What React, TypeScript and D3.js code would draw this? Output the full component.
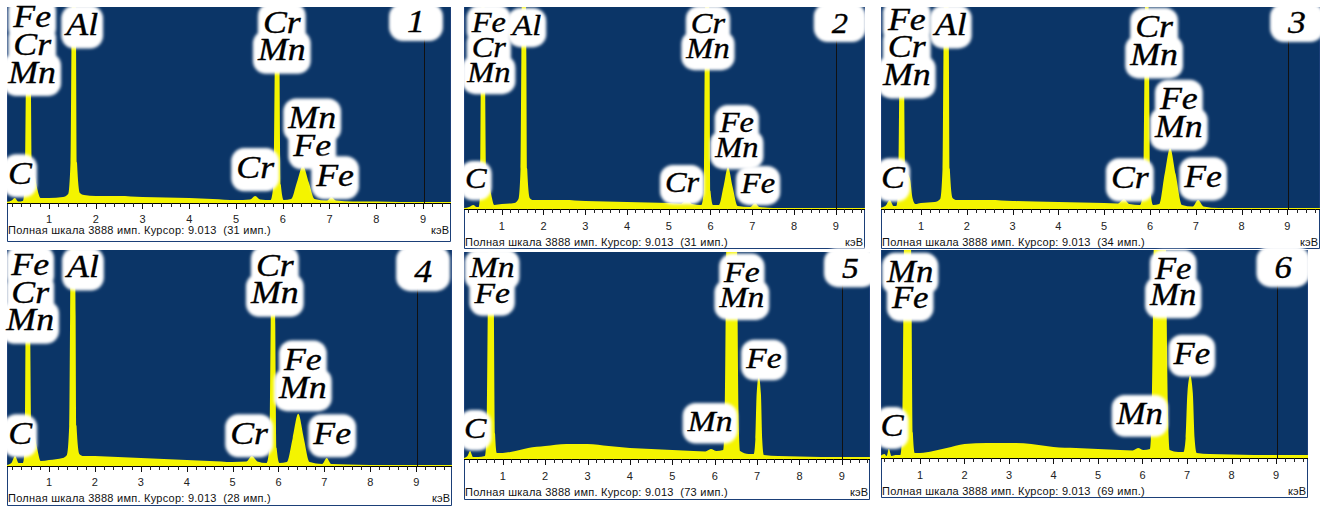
import React, { useEffect, useRef } from "react";
import * as d3 from "d3";

const W = 1324;
const H = 507;
const FULL_SCALE = 3888; // имп.
const CURSOR_KEV = 9.013;

const tickLabels = [1, 2, 3, 4, 5, 6, 7, 8, 9];
const panelNames = ["1", "2", "3", "4", "5", "6"];
const cursorCounts = [31, 31, 34, 28, 73, 69];

// spectra as [keV, counts]
const spectrum1: [number, number][] = [
  [0.08, 20], [0.2, 50], [0.27, 100], [0.34, 30], [0.44, 40], [0.48, 320], [0.51, 2800], [0.56, 8000],
  [0.61, 2800], [0.64, 600], [0.69, 540], [0.75, 280], [0.82, 100], [1.0, 100], [1.3, 120], [1.41, 180],
  [1.46, 800], [1.48, 3000], [1.53, 10000], [1.58, 3000], [1.6, 800], [1.66, 200], [1.75, 160], [2.0, 140],
  [2.5, 140], [3.0, 120], [3.5, 110], [4.0, 100], [4.5, 80], [5.0, 60], [5.3, 70], [5.41, 140], [5.52, 70],
  [5.74, 60], [5.8, 360], [5.83, 2800], [5.88, 8000], [5.93, 2800], [5.96, 360], [6.02, 60], [6.18, 80],
  [6.3, 400], [6.43, 740], [6.56, 400], [6.68, 80], [6.95, 50], [7.04, 120], [7.14, 50], [7.5, 30],
  [8.0, 30], [8.5, 20], [9.0, 20], [9.8, 20],
];
const spectrum2: [number, number][] = [
  [0.08, 19], [0.22, 39], [0.32, 77], [0.4, 39], [0.45, 39], [0.48, 308], [0.5, 2700], [0.55, 7700],
  [0.6, 2700], [0.63, 616], [0.68, 558], [0.75, 270], [0.82, 77], [1.0, 96], [1.3, 116], [1.4, 193],
  [1.45, 770], [1.47, 2890], [1.53, 9600], [1.59, 2890], [1.61, 770], [1.67, 212], [1.75, 173], [2.0, 173],
  [2.5, 173], [3.0, 154], [3.5, 144], [4.0, 135], [4.5, 125], [5.0, 116], [5.3, 106], [5.44, 193],
  [5.56, 96], [5.78, 77], [5.84, 347], [5.86, 2700], [5.92, 7700], [5.98, 2700], [6.0, 347], [6.06, 77],
  [6.2, 77], [6.31, 424], [6.42, 809], [6.53, 424], [6.65, 58], [6.95, 39], [7.07, 116], [7.17, 39],
  [7.5, 19], [8.0, 19], [8.5, 19], [9.0, 19], [9.8, 19],
];
const spectrum3: [number, number][] = [
  [0.08, 19], [0.22, 58], [0.32, 173], [0.4, 58], [0.46, 58], [0.5, 347], [0.53, 2700], [0.58, 7700],
  [0.63, 2700], [0.66, 770], [0.7, 693], [0.76, 578], [0.82, 193], [0.88, 96], [1.0, 116], [1.3, 135],
  [1.42, 193], [1.47, 770], [1.49, 2890], [1.55, 9600], [1.61, 2890], [1.63, 770], [1.69, 212], [1.78, 173],
  [2.0, 173], [2.5, 173], [3.0, 154], [3.5, 144], [4.0, 135], [4.5, 125], [5.0, 116], [5.3, 106],
  [5.43, 193], [5.55, 96], [5.78, 77], [5.85, 347], [5.88, 2700], [5.93, 7700], [5.98, 2700], [6.01, 347],
  [6.07, 77], [6.2, 96], [6.32, 674], [6.44, 1174], [6.56, 674], [6.7, 77], [6.93, 48], [7.05, 173],
  [7.17, 48], [7.5, 19], [8.0, 19], [8.5, 19], [9.0, 19], [9.8, 19],
];
const spectrum4: [number, number][] = [
  [0.08, 18], [0.18, 54], [0.26, 181], [0.34, 54], [0.43, 54], [0.47, 325], [0.49, 2531], [0.54, 7232],
  [0.59, 2531], [0.62, 651], [0.67, 597], [0.74, 325], [0.82, 90], [1.0, 108], [1.3, 145], [1.39, 199],
  [1.44, 723], [1.46, 2712], [1.52, 9040], [1.58, 2712], [1.6, 723], [1.66, 217], [1.75, 181], [2.0, 181],
  [2.5, 163], [3.0, 145], [3.5, 127], [4.0, 108], [4.5, 90], [5.0, 72], [5.3, 81], [5.42, 181], [5.54, 81],
  [5.74, 54], [5.8, 325], [5.83, 2531], [5.88, 7232], [5.93, 2531], [5.96, 325], [6.02, 54], [6.18, 72],
  [6.31, 506], [6.43, 940], [6.55, 506], [6.68, 72], [6.95, 36], [7.05, 145], [7.15, 36], [7.5, 27],
  [8.0, 18], [8.5, 18], [9.0, 18], [9.8, 18],
];
const spectrum5: [number, number][] = [
  [0.08, 19], [0.17, 57], [0.23, 151], [0.3, 38], [0.42, 38], [0.58, 57], [0.62, 472], [0.65, 3019],
  [0.72, 11322], [0.79, 3019], [0.82, 472], [0.86, 113], [1.0, 113], [1.3, 151], [1.6, 208], [2.0, 245],
  [2.5, 283], [3.0, 283], [3.5, 245], [4.0, 208], [4.5, 189], [5.0, 170], [5.5, 151], [5.78, 142],
  [5.91, 189], [6.04, 151], [6.2, 170], [6.24, 944], [6.27, 3774], [6.4, 18870], [6.53, 3774], [6.56, 944],
  [6.6, 151], [6.8, 94], [6.92, 94], [6.96, 377], [6.99, 1227], [7.04, 1566], [7.09, 1227], [7.12, 377],
  [7.16, 75], [7.5, 57], [8.0, 47], [8.5, 38], [9.0, 38], [9.8, 38],
];
const spectrum6: [number, number][] = [
  [0.08, 19], [0.2, 75], [0.25, 38], [0.3, 169], [0.36, 38], [0.45, 56], [0.56, 56], [0.6, 470],
  [0.63, 3005], [0.72, 11268], [0.81, 3005], [0.84, 470], [0.88, 94], [1.0, 94], [1.3, 131], [1.6, 188],
  [2.0, 263], [2.5, 282], [3.0, 282], [3.5, 263], [4.0, 207], [4.5, 188], [5.0, 169], [5.5, 150],
  [5.78, 141], [5.9, 188], [6.02, 150], [6.17, 169], [6.21, 939], [6.25, 3756], [6.39, 18780], [6.53, 3756],
  [6.57, 939], [6.61, 150], [6.8, 113], [6.92, 113], [6.97, 376], [7.01, 1221], [7.07, 1540], [7.13, 1221],
  [7.17, 376], [7.22, 94], [7.5, 75], [8.0, 66], [8.5, 56], [9.0, 56], [9.8, 56],
];

type Label = { lines: string[]; e: number; c: number; num?: boolean };

// element labels: e = keV of label centre, c = counts at last baseline
const labels1: Label[] = [
  { lines: ["Fe", "Cr", "Mn"], e: 0.64, c: 2390 },
  { lines: ["Al"], e: 1.71, c: 3330 },
  { lines: ["Cr", "Mn"], e: 5.98, c: 2831 },
  { lines: ["Mn", "Fe"], e: 6.63, c: 937 },
  { lines: ["Cr"], e: 5.41, c: 499 },
  { lines: ["Fe"], e: 7.12, c: 339 },
  { lines: ["C"], e: 0.38, c: 379 },
  { lines: ["1"], e: 8.85, c: 3390, num: true },
];
const labels2: Label[] = [
  { lines: ["Fe", "Cr", "Mn"], e: 0.69, c: 2445 },
  { lines: ["Al"], e: 1.6, c: 3350 },
  { lines: ["Cr", "Mn"], e: 5.94, c: 2907 },
  { lines: ["Fe", "Mn"], e: 6.63, c: 1001 },
  { lines: ["Cr"], e: 5.32, c: 327 },
  { lines: ["Fe"], e: 7.14, c: 308 },
  { lines: ["C"], e: 0.38, c: 404 },
  { lines: ["2"], e: 9.1, c: 3388, num: true },
];
const labels3: Label[] = [
  { lines: ["Fe", "Cr", "Mn"], e: 0.69, c: 2387 },
  { lines: ["Al"], e: 1.65, c: 3350 },
  { lines: ["Cr", "Mn"], e: 6.09, c: 2772 },
  { lines: ["Fe", "Mn"], e: 6.63, c: 1386 },
  { lines: ["Cr"], e: 5.56, c: 404 },
  { lines: ["Fe"], e: 7.16, c: 424 },
  { lines: ["C"], e: 0.39, c: 404 },
  { lines: ["3"], e: 9.21, c: 3388, num: true },
];
const labels4: Label[] = [
  { lines: ["Fe", "Cr", "Mn"], e: 0.59, c: 2441 },
  { lines: ["Al"], e: 1.74, c: 3399 },
  { lines: ["Cr", "Mn"], e: 5.92, c: 2929 },
  { lines: ["Fe", "Mn"], e: 6.53, c: 1229 },
  { lines: ["Cr"], e: 5.36, c: 398 },
  { lines: ["Fe"], e: 7.17, c: 398 },
  { lines: ["C"], e: 0.37, c: 398 },
  { lines: ["4"], e: 9.15, c: 3309, num: true },
];
const labels5: Label[] = [
  { lines: ["Mn", "Fe"], e: 0.75, c: 2925 },
  { lines: ["Fe", "Mn"], e: 6.64, c: 2849 },
  { lines: ["Fe"], e: 7.16, c: 1717 },
  { lines: ["Mn"], e: 5.89, c: 528 },
  { lines: ["C"], e: 0.35, c: 396 },
  { lines: ["5"], e: 9.2, c: 3397, num: true },
];
const labels6: Label[] = [
  { lines: ["Mn", "Fe"], e: 0.78, c: 2798 },
  { lines: ["Fe", "Mn"], e: 6.69, c: 2855 },
  { lines: ["Fe"], e: 7.11, c: 1765 },
  { lines: ["Mn"], e: 5.94, c: 639 },
  { lines: ["C"], e: 0.37, c: 413 },
  { lines: ["6"], e: 9.16, c: 3362, num: true },
];

const spectra = [spectrum1, spectrum2, spectrum3, spectrum4, spectrum5, spectrum6];
const labelSets = [labels1, labels2, labels3, labels4, labels5, labels6];

// panel layout in page pixels
const layouts = [
  { left: 7, right: 451, top: 7, axis: 203, tickY: 223, textY: 234, bottom: 242, domain: [0.102, 9.599], font: 32 },
  { left: 464, right: 865, top: 7, axis: 209, tickY: 230, textY: 246, bottom: 249, domain: [0.096, 9.701], font: 29 },
  { left: 881, right: 1320, top: 7, axis: 209, tickY: 230, textY: 246, bottom: 249, domain: [0.127, 9.712], font: 32 },
  { left: 7, right: 452, top: 250, axis: 466, tickY: 486, textY: 502, bottom: 506, domain: [0.085, 9.78], font: 32 },
  { left: 464, right: 870, top: 252, axis: 459, tickY: 480, textY: 496, bottom: 500, domain: [0.087, 9.663], font: 30 },
  { left: 881, right: 1308, top: 250, axis: 458, tickY: 479, textY: 495, bottom: 498, domain: [0.124, 9.719], font: 31 },
];

const BLUE = "#0b3567";
const YELLOW = "#f4f400";
const FRAME = "#1b3f78";
const SX = 1.12; // label glyphs are a bit wider than Liberation Serif

export default function App() {
  const ref = useRef<SVGSVGElement>(null);

  useEffect(() => {
    const svg = d3.select(ref.current);
    svg.selectAll("*").remove();
    const defs = svg.append("defs");
    defs
      .append("filter")
      .attr("id", "soft")
      .attr("x", "-30%")
      .attr("y", "-30%")
      .attr("width", "160%")
      .attr("height", "160%")
      .append("feGaussianBlur")
      .attr("stdDeviation", 1.6);

    layouts.forEach((L, i) => {
      const x = d3.scaleLinear().domain(L.domain).range([L.left, L.right]);
      const y = d3.scaleLinear().domain([0, FULL_SCALE]).range([L.axis, L.top]);
      const g = svg.append("g").attr("data-panel", panelNames[i]);

      defs
        .append("clipPath")
        .attr("id", "clip" + i)
        .append("rect")
        .attr("x", L.left)
        .attr("y", L.top)
        .attr("width", L.right - L.left)
        .attr("height", L.axis - L.top);

      g.append("rect")
        .attr("x", L.left)
        .attr("y", L.top)
        .attr("width", L.right - L.left)
        .attr("height", L.axis - L.top)
        .attr("fill", BLUE);

      g.append("path")
        .attr("d", `M${L.left + 0.5},${L.top}V${L.bottom - 0.5}H${L.right - 0.5}V${L.top}`)
        .attr("fill", "none")
        .attr("stroke", FRAME)
        .attr("stroke-width", 1);

      const area = d3
        .area<[number, number]>()
        .x((d) => x(d[0]))
        .y0(L.axis)
        .y1((d) => y(d[1]))
        .curve(d3.curveMonotoneX);
      g.append("path")
        .attr("clip-path", `url(#clip${i})`)
        .attr("d", area(spectra[i]) as string)
        .attr("fill", YELLOW);

      // cursor
      const cx = Math.round(x(CURSOR_KEV)) + 0.5;
      g.append("line")
        .attr("x1", cx)
        .attr("x2", cx)
        .attr("y1", L.top)
        .attr("y2", L.axis)
        .attr("stroke", "#111");

      // axis
      g.append("line")
        .attr("x1", L.left)
        .attr("x2", L.right)
        .attr("y1", L.axis + 0.5)
        .attr("y2", L.axis + 0.5)
        .attr("stroke", "#000");
      const minor = d3.range(0.2, L.domain[1], 0.2).filter((v) => v > L.domain[0]);
      g.selectAll(null)
        .data(minor)
        .enter()
        .append("line")
        .attr("x1", (d) => Math.round(x(d)) + 0.5)
        .attr("x2", (d) => Math.round(x(d)) + 0.5)
        .attr("y1", L.axis)
        .attr("y2", L.axis + 4)
        .attr("stroke", "#222");
      g.selectAll(null)
        .data(tickLabels)
        .enter()
        .append("line")
        .attr("x1", (d) => Math.round(x(d)) + 0.5)
        .attr("x2", (d) => Math.round(x(d)) + 0.5)
        .attr("y1", L.axis)
        .attr("y2", L.axis + 6)
        .attr("stroke", "#111");
      g.selectAll(null)
        .data(tickLabels)
        .enter()
        .append("text")
        .attr("x", (d) => x(d))
        .attr("y", L.tickY)
        .attr("text-anchor", "middle")
        .attr("font-family", "Liberation Sans, Arial, sans-serif")
        .attr("font-size", 11)
        .attr("fill", "#222")
        .text((d) => String(d));

      // status line
      g.append("text")
        .attr("x", L.left + 1)
        .attr("y", L.textY)
        .attr("font-family", "Liberation Sans, Arial, sans-serif")
        .attr("font-size", 11)
        .attr("letter-spacing", 0.25)
        .attr("fill", "#111")
        .style("white-space", "pre")
        .text(`Полная шкала ${FULL_SCALE} имп. Курсор: ${CURSOR_KEV.toFixed(3)}  (${cursorCounts[i]} имп.)`);
      g.append("text")
        .attr("x", L.right - 2)
        .attr("y", L.textY)
        .attr("text-anchor", "end")
        .attr("font-family", "Liberation Sans, Arial, sans-serif")
        .attr("font-size", 11)
        .attr("fill", "#111")
        .text("кэВ");

      // labels: white cloud + italic serif element names
      const fs = L.font;
      const lh = fs * 0.86;
      labelSets[i].forEach((lab) => {
        const lg = g.append("g");
        const blobs = lg.append("g").attr("filter", "url(#soft)");
        const cxL = x(lab.e);
        const base = y(lab.c);
        const n = lab.lines.length;
        const txt = lg
          .append("text")
          .attr("transform", `translate(${cxL},0) scale(${SX},1)`)
          .attr("text-anchor", "middle")
          .attr("font-family", "Liberation Serif, Times New Roman, serif")
          .attr("font-style", "italic")
          .attr("font-size", fs)
          .attr("fill", "#000")
          .attr("stroke", "#000")
          .attr("stroke-width", 0.35);
        lab.lines.forEach((t, j) => {
          const by = base - (n - 1 - j) * lh;
          const ts = txt.append("tspan").attr("x", 0).attr("y", by).text(t);
          const w = (ts.node() as SVGTextContentElement).getComputedTextLength() * SX;
          if (lab.num) {
            blobs
              .append("rect")
              .attr("x", cxL - w / 2 - 18)
              .attr("y", L.top - 4)
              .attr("width", w + 36)
              .attr("height", by + 9 - L.top + 4)
              .attr("rx", 14)
              .attr("fill", "#fff");
          } else {
            blobs
              .append("rect")
              .attr("x", cxL - w / 2 - 5)
              .attr("y", by - fs * 0.93)
              .attr("width", w + 10)
              .attr("height", fs * 1.35)
              .attr("rx", 13)
              .attr("fill", "#fff");
          }
        });
      });
    });
  }, []);

  return (
    <svg
      ref={ref}
      width={W}
      height={H}
      style={{ position: "absolute", left: 0, top: 0, background: "#fff" }}
    />
  );
}
